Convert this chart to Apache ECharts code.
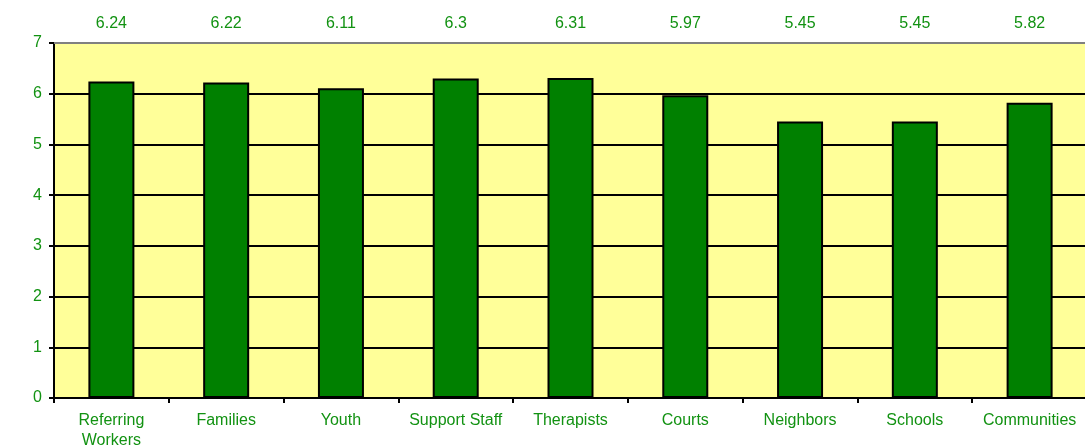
<!DOCTYPE html>
<html>
<head>
<meta charset="utf-8">
<script src="https://cdn.jsdelivr.net/npm/echarts@6/dist/echarts.min.js"></script>
<style>
  html, body { margin: 0; padding: 0; background: #fff; }
  #chart { width: 1085px; height: 446px; }
</style>
</head>
<body>
<div id="chart"></div>
<script>
// categories and mean scores
var categories = ['Referring\nWorkers', 'Families', 'Youth', 'Support Staff', 'Therapists', 'Courts', 'Neighbors', 'Schools', 'Communities'];
var scores = [6.24, 6.22, 6.11, 6.3, 6.31, 5.97, 5.45, 5.45, 5.82];
var yTicks = [0, 1, 2, 3, 4, 5, 6, 7];

var textGreen = '#129212';
var font = 'Liberation Sans, Arial, sans-serif';

var chart = echarts.init(document.getElementById('chart'));
chart.setOption({
  animation: false,
  backgroundColor: '#fff',
  grid: {
    left: 54,
    top: 43,
    width: 1033,
    height: 355,
    outerBoundsMode: 'none',
    show: true,
    backgroundColor: '#FFFF99',
    borderWidth: 0
  },
  xAxis: [{
    type: 'category',
    data: categories,
    position: 'bottom',
    axisLine: { lineStyle: { color: '#000', width: 2 } },
    axisTick: { show: true, length: 5, lineStyle: { color: '#000', width: 2 } },
    axisLabel: {
      color: textGreen,
      fontSize: 16,
      fontFamily: font,
      margin: 13,
      lineHeight: 20,
      interval: 0
    }
  }, {
    // value labels along the top
    type: 'category',
    data: scores.map(function (v) { return String(v); }),
    position: 'top',
    axisLine: { lineStyle: { color: '#808080', width: 2 } },
    axisTick: { show: false },
    axisLabel: {
      color: textGreen,
      fontSize: 16,
      fontFamily: font,
      margin: 11,
      interval: 0
    }
  }],
  yAxis: {
    type: 'value',
    min: yTicks[0],
    max: yTicks[yTicks.length - 1],
    interval: 1,
    axisLine: { show: true, lineStyle: { color: '#000', width: 2 } },
    axisTick: { show: true, length: 5, lineStyle: { color: '#000', width: 2 } },
    axisLabel: {
      color: textGreen,
      fontSize: 16,
      fontFamily: font,
      margin: 12
    },
    splitLine: { show: true, lineStyle: { color: '#000', width: 2 } }
  },
  series: [{
    type: 'bar',
    data: scores,
    barWidth: 46,
    itemStyle: {
      color: '#008000',
      borderColor: '#000',
      borderWidth: 2
    }
  }]
});
</script>
</body>
</html>
